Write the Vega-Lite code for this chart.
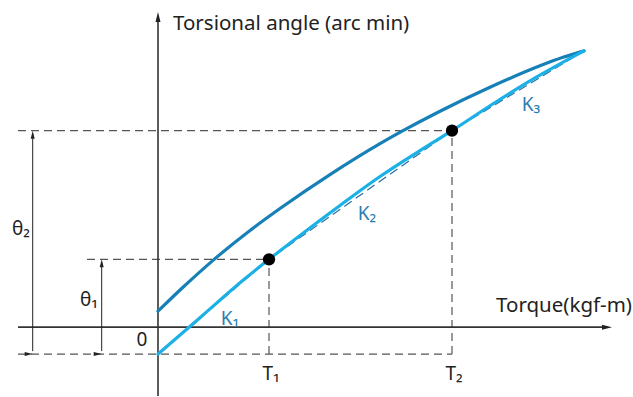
{
  "$schema": "https://vega.github.io/schema/vega-lite/v6.json",
  "width": 633,
  "height": 397,
  "padding": 0,
  "autosize": {"type": "fit", "contains": "padding"},
  "background": "white",
  "config": {"view": {"stroke": null}},
  "datasets": {
    "curves": [
      {"series": "load", "t": 0, "a": 16},
      {"series": "load", "t": 25, "a": 40},
      {"series": "load", "t": 55, "a": 67},
      {"series": "load", "t": 92, "a": 97},
      {"series": "load", "t": 122, "a": 119},
      {"series": "load", "t": 172, "a": 153},
      {"series": "load", "t": 222, "a": 184},
      {"series": "load", "t": 245, "a": 197},
      {"series": "load", "t": 282, "a": 216.5},
      {"series": "load", "t": 332, "a": 240.5},
      {"series": "load", "t": 382, "a": 262},
      {"series": "load", "t": 405, "a": 270.5},
      {"series": "load", "t": 426, "a": 277},
      {"series": "unload", "t": 0, "a": -27},
      {"series": "unload", "t": 42, "a": 9.5},
      {"series": "unload", "t": 85, "a": 47},
      {"series": "unload", "t": 111, "a": 68},
      {"series": "unload", "t": 142, "a": 92},
      {"series": "unload", "t": 182, "a": 122},
      {"series": "unload", "t": 222, "a": 151},
      {"series": "unload", "t": 262, "a": 177},
      {"series": "unload", "t": 294, "a": 197},
      {"series": "unload", "t": 332, "a": 222},
      {"series": "unload", "t": 372, "a": 247},
      {"series": "unload", "t": 402, "a": 264},
      {"series": "unload", "t": 426, "a": 277}
    ],
    "kline": [
      {"t": 0, "a": -27},
      {"t": 111, "a": 68},
      {"t": 294, "a": 197},
      {"t": 426, "a": 277}
    ],
    "guides": [
      {"t": -140, "a": -27, "t2": 294, "a2": -27},
      {"t": -140, "a": 197, "t2": 294, "a2": 197},
      {"t": -71, "a": 68, "t2": 111, "a2": 68},
      {"t": 111, "a": -27, "t2": 111, "a2": 68},
      {"t": 294, "a": -27, "t2": 294, "a2": 197}
    ],
    "axes": [
      {"t": -140, "a": 0, "t2": 446, "a2": 0},
      {"t": 0, "a": -69, "t2": 0, "a2": 308}
    ],
    "dims": [
      {"t": -125.3, "a": -24, "t2": -125.3, "a2": 194},
      {"t": -56.3, "a": -24, "t2": -56.3, "a2": 65}
    ],
    "heads": [
      {"t": 454, "a": 0, "dir": "right"},
      {"t": 0, "a": 316, "dir": "up"}
    ],
    "dimheads": [
      {"t": -125.3, "a": 197, "dir": "up"},
      {"t": -125.3, "a": -27, "dir": "down"},
      {"t": -56.3, "a": 68, "dir": "up"},
      {"t": -56.3, "a": -27, "dir": "down"}
    ],
    "dots": [
      {"t": 111, "a": 68},
      {"t": 294, "a": 197}
    ],
    "blackLabels": [
      {"t": -137, "a": 98, "label": "θ₂"},
      {"t": -69, "a": 27, "label": "θ₁"},
      {"t": -16, "a": -13, "label": "0"},
      {"t": 113, "a": -47, "label": "T₁"},
      {"t": 296, "a": -47, "label": "T₂"}
    ],
    "blueLabels": [
      {"t": 72, "a": 8, "label": "K₁"},
      {"t": 209, "a": 113, "label": "K₂"},
      {"t": 373, "a": 223, "label": "K₃"}
    ]
  },
  "encoding": {
    "x": {"field": "t", "type": "quantitative", "scale": {"domain": [-158, 475], "nice": false, "zero": false}, "axis": null},
    "y": {"field": "a", "type": "quantitative", "scale": {"domain": [-69, 328], "nice": false, "zero": false}, "axis": null}
  },
  "layer": [
    {
      "data": {"name": "guides"},
      "mark": {"type": "rule", "color": "#555555", "strokeWidth": 1.2, "strokeDash": [8, 5]},
      "encoding": {"x2": {"field": "t2"}, "y2": {"field": "a2"}}
    },
    {
      "data": {"name": "axes"},
      "mark": {"type": "rule", "color": "#333333", "strokeWidth": 1.6},
      "encoding": {"x2": {"field": "t2"}, "y2": {"field": "a2"}}
    },
    {
      "data": {"name": "dims"},
      "mark": {"type": "rule", "color": "#222222", "strokeWidth": 1},
      "encoding": {"x2": {"field": "t2"}, "y2": {"field": "a2"}}
    },
    {
      "data": {"name": "heads"},
      "mark": {"type": "point", "filled": true, "opacity": 1, "size": 100, "color": "#222222", "strokeWidth": 0},
      "encoding": {
        "shape": {"field": "dir", "type": "nominal", "legend": null,
          "scale": {"domain": ["right", "up"], "range": ["M0,0L-2,-0.5L-2,0.5Z", "M0,0L0.5,2L-0.5,2Z"]}}
      }
    },
    {
      "data": {"name": "dimheads"},
      "mark": {"type": "point", "filled": true, "opacity": 1, "size": 64, "color": "#222222", "strokeWidth": 0},
      "encoding": {
        "shape": {"field": "dir", "type": "nominal", "legend": null,
          "scale": {"domain": ["up", "down"], "range": ["M0,0L0.45,2L-0.45,2Z", "M0,0L0.45,-2L-0.45,-2Z"]}}
      }
    },
    {
      "data": {"name": "kline"},
      "mark": {"type": "line", "color": "#2a6f9c", "strokeWidth": 1.2, "strokeDash": [9, 5]},
      "encoding": {}
    },
    {
      "data": {"name": "curves"},
      "mark": {"type": "line", "strokeWidth": 3.2, "interpolate": "monotone", "strokeCap": "round"},
      "encoding": {
        "color": {"field": "series", "type": "nominal", "legend": null,
          "scale": {"domain": ["load", "unload"], "range": ["#1780b7", "#1bb1e7"]}}
      }
    },
    {
      "data": {"name": "dots"},
      "mark": {"type": "circle", "size": 150, "color": "#000000", "opacity": 1},
      "encoding": {}
    },
    {
      "data": {"name": "blackLabels"},
      "mark": {"type": "text", "font": "Noto Sans", "fontSize": 19, "color": "#222222", "align": "center", "baseline": "middle"},
      "encoding": {"text": {"field": "label"}}
    },
    {
      "data": {"name": "blueLabels"},
      "mark": {"type": "text", "font": "Noto Sans", "fontSize": 19, "color": "#2b7db0", "align": "center", "baseline": "middle"},
      "encoding": {"text": {"field": "label"}}
    },
    {
      "data": {"values": [{"t": 15, "a": 298, "label": "Torsional angle (arc min)"}]},
      "mark": {"type": "text", "font": "Noto Sans", "fontSize": 20.5, "color": "#222222", "align": "left", "baseline": "alphabetic"},
      "encoding": {"text": {"field": "label"}}
    },
    {
      "data": {"values": [{"t": 474, "a": 15, "label": "Torque(kgf-m)"}]},
      "mark": {"type": "text", "font": "Noto Sans", "fontSize": 20.5, "color": "#222222", "align": "right", "baseline": "alphabetic"},
      "encoding": {"text": {"field": "label"}}
    }
  ]
}
